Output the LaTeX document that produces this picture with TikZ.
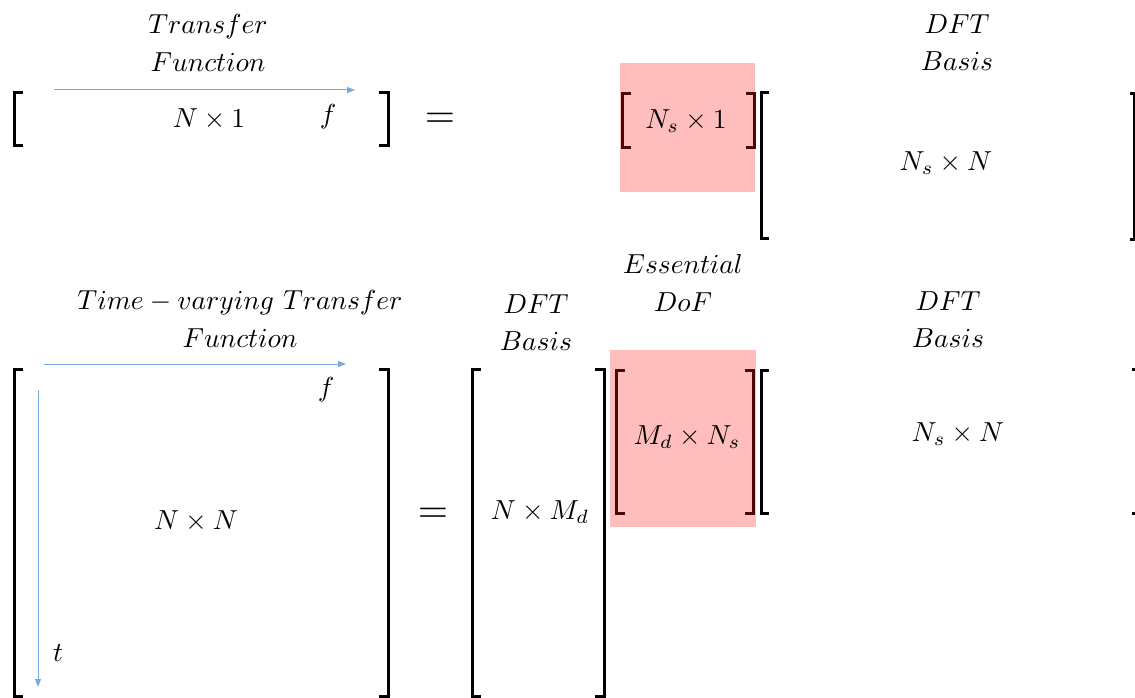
\documentclass[tikz,border=0pt]{standalone}
\usepackage{amsmath,amssymb}
\usepackage{xcolor}
\usepackage{tikz}
\usetikzlibrary{arrows.meta,positioning}

\definecolor{axisblue}{RGB}{120,170,225}
\definecolor{dofpink}{RGB}{255,189,189}
\definecolor{dofdark}{RGB}{75,10,10}

\begin{document}
\begin{tikzpicture}[
    x=1pt, y=-1pt,
    txt/.style={inner sep=0pt, align=center, font=\fontsize{10}{13.5}\selectfont, scale=2.75, transform shape},
    eqsign/.style={inner sep=0pt, scale=3.9, transform shape},
    brk/.style={line width=3pt, line cap=butt, line join=miter},
    dofbrk/.style={brk, draw=dofdark},
    dofbox/.style={fill=dofpink, draw=none},
    axis/.style={draw=axisblue, line width=1pt, -{Triangle[length=8pt, width=6pt]}}
]
\useasboundingbox (0,0) rectangle (1135,698);
\clip (0,0) rectangle (1135,698);

% highlighted blocks
\fill[dofbox] (620,63) rectangle (755,192);
\fill[dofbox] (610,350) rectangle (756,527);

% top row
\node[txt] (tftitle) at (208,43) {$Transfer$\\$Function$};
\draw[brk] (23,93) -- (14,93) -- (14,146) -- (23,146);
\draw[brk] (379,93) -- (388,93) -- (388,146) -- (379,146);
\coordinate (tfs) at (54,90);
\coordinate (tfe) at (355,90);
\draw[axis] (tfs) -- (tfe);
\node[txt] (tff) at (328,117) {$f$};
\node[txt] (tfdim) at (209,119) {$N\times 1$};
\node[eqsign] (eqtop) at (440,120) {$=$};

\draw[dofbrk] (631,94) -- (622,94) -- (622,148) -- (631,148);
\draw[dofbrk] (746,94) -- (754,94) -- (754,148) -- (746,148);
\node[txt] (nsdim) at (686,121) {$N_s\times 1$};

\node[txt] (dfttitle1) at (957,43) {$DFT$\\$Basis$};
\draw[brk] (769,93) -- (761,93) -- (761,238) -- (769,238);
\draw[brk] (1130,94) -- (1134,94) -- (1134,239) -- (1130,239);
\node[txt] (dftdim1) at (946,163) {$N_s\times N$};

% bottom row
\node[txt] (tvtitle) at (240,319) {$Time-varying\ Transfer$\\$Function$};
\draw[brk] (23,369) -- (14,369) -- (14,696) -- (23,696);
\draw[brk] (379,369) -- (388,369) -- (388,696) -- (379,696);
\coordinate (tvfs) at (44,364);
\coordinate (tvfe) at (346,364);
\coordinate (tvts) at (38,390);
\coordinate (tvte) at (38,687);
\draw[axis] (tvfs) -- (tvfe);
\draw[axis] (tvts) -- (tvte);
\node[txt] (tvf) at (326,390) {$f$};
\node[txt] (tvt) at (58,653) {$t$};
\node[txt] (tvdim) at (196,521) {$N\times N$};
\node[eqsign] (eqbot) at (433,515) {$=$};

\node[txt] (dfttitle2) at (536,323) {$DFT$\\$Basis$};
\draw[brk] (481,369) -- (472,369) -- (472,696) -- (481,696);
\draw[brk] (595,369) -- (604,369) -- (604,696) -- (595,696);
\node[txt] (dftdim2) at (540,512) {$N\times M_d$};

\node[txt] (doftitle) at (683,283) {$Essential$\\$DoF$};
\draw[dofbrk] (625,370) -- (616,370) -- (616,513) -- (625,513);
\draw[dofbrk] (745,370) -- (753,370) -- (753,513) -- (745,513);
\node[txt] (dofdim) at (687,437) {$M_d\times N_s$};

\node[txt] (dfttitle3) at (948,320) {$DFT$\\$Basis$};
\draw[brk] (769,370) -- (761,370) -- (761,513) -- (769,513);
\draw[brk] (1132,369) -- (1138,369) -- (1138,513) -- (1132,513);
\node[txt] (dftdim3) at (958,434) {$N_s\times N$};
\end{tikzpicture}
\end{document}
